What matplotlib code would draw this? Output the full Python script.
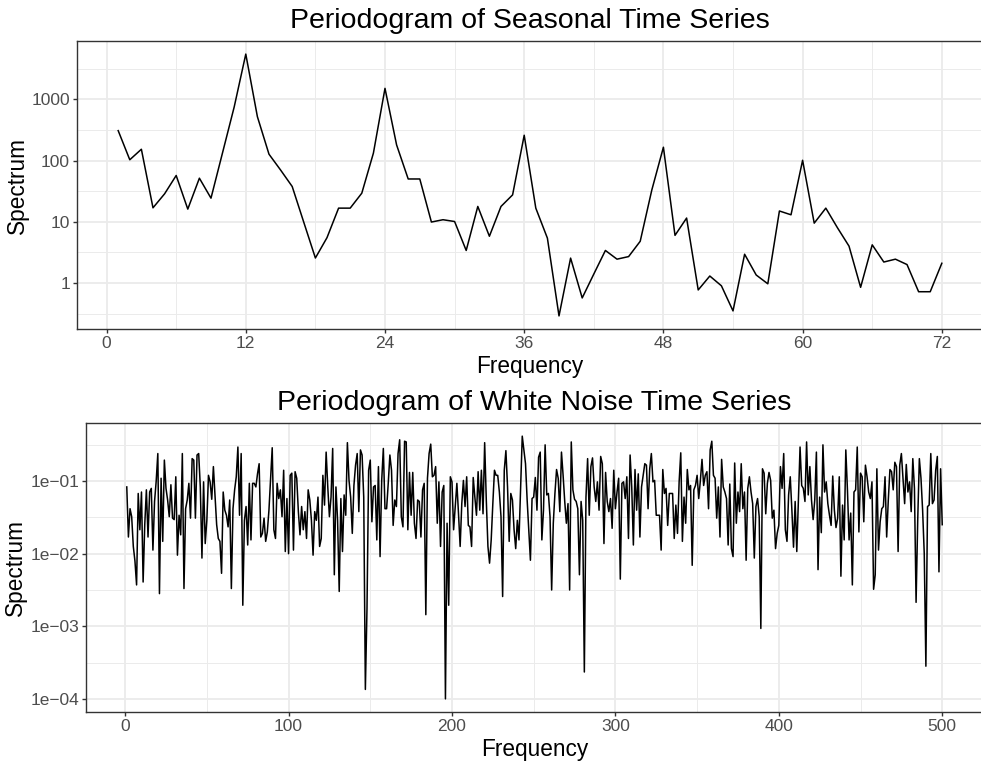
import numpy as np
import matplotlib
matplotlib.use("Agg")
import matplotlib.pyplot as plt
from matplotlib.ticker import FixedLocator, NullFormatter

plt.rcParams["font.family"] = ["Liberation Sans", "DejaVu Sans"]

# seasonal series: spectrum at frequencies 1..72
seasonal_freq = list(range(1, 73))
seasonal_spec = [308, 103, 153, 16.9, 28.6, 57, 16.1, 51.5, 24.3, 135, 750, 5480,
                 521, 127, 70, 37.7, 9.8, 2.56, 5.5, 16.7, 16.7, 29.3, 132, 1510,
                 180, 50, 50, 9.9, 10.8, 10.1, 3.4, 17.8, 5.8, 17.8, 27.5, 259,
                 16.7, 5.4, 0.29, 2.55, 0.57, 1.4, 3.4, 2.45, 2.7, 4.8, 33, 165,
                 6.0, 11.5, 0.77, 1.3, 0.9, 0.35, 2.95, 1.35, 0.97, 15, 13, 101,
                 9.5, 16.7, 8, 4, 0.85, 4.2, 2.2, 2.45, 2.0, 0.72, 0.72, 2.1]
seasonal_xticks = [0, 12, 24, 36, 48, 60, 72]
seasonal_yticks = [1, 10, 100, 1000]
seasonal_ylabels = ["1", "10", "100", "1000"]

# white noise series: log10 of spectrum at frequencies 1..500
noise_freq = list(range(1, 501))
noise_log10 = [
    -1.08, -1.77, -1.38, -1.49, -1.9, -2.1, -2.43, -1.17, -1.67, -1.15,
    -2.39, -1.6, -1.12, -1.77, -1.15, -1.1, -1.95, -1.28, -1.0, -0.62,
    -2.55, -0.96, -1.83, -0.71, -1.1, -1.26, -1.49, -1.05, -1.51, -1.53,
    -0.94, -2.02, -1.47, -1.74, -0.62, -2.48, -1.38, -1.26, -1.03, -1.51,
    -0.69, -0.71, -1.51, -0.64, -0.62, -1.08, -2.06, -1.01, -1.86, -1.54,
    -0.92, -1.01, -1.25, -0.8, -1.2, -1.6, -1.79, -1.83, -2.27, -1.15,
    -1.4, -1.47, -1.63, -1.26, -2.48, -1.38, -1.12, -0.94, -0.53, -1.47,
    -0.62, -2.71, -1.54, -1.35, -1.88, -1.03, -1.81, -1.03,
    # 79-161
    -1.03, -1.08, -0.9, -0.76, -1.77, -1.72, -1.51, -1.83, -1.7, -1.4,
    -0.96, -0.54, -1.67, -1.79, -1.03, -1.24, -1.12, -1.49, -0.85, -1.97,
    -1.24, -2.0, -0.92, -0.89, -1.95, -0.87, -0.96, -1.42, -1.74, -1.35,
    -1.67, -1.42, -1.79, -1.12, -1.26, -1.54, -2.02, -1.42, -1.54, -1.22,
    -1.9, -1.79, -0.92, -1.33, -0.6, -1.08, -1.49, -1.22, -0.55, -2.29,
    -1.08, -1.54, -2.52, -1.24, -1.97, -1.19, -1.47, -0.47, -0.99, -1.22,
    -1.72, -1.06, -0.78, -0.62, -1.42, -0.57, -0.64, -1.22, -3.87, -2.75,
    -0.85, -0.71, -1.56, -1.08, -1.06, -1.81, -0.8, -2.04, -0.99, -0.55,
    -1.38, -1.38, -1.03,
    # 162-244
    -0.64, -0.85, -1.61, -1.26, -1.35, -0.62, -0.43, -1.49, -1.63, -0.45,
    -0.46, -1.67, -0.88, -1.47, -0.88, -1.58, -1.79, -1.26, -1.28, -1.77,
    -1.12, -1.03, -2.84, -0.96, -0.62, -0.49, -0.94, -0.92, -0.8, -1.58,
    -1.01, -1.9, -1.15, -1.06, -4.0, -1.58, -2.71, -0.94, -1.01, -1.67,
    -1.35, -1.03, -1.45, -1.9, -1.31, -0.99, -1.35, -0.94, -1.61, -1.63,
    -1.9, -0.95, -1.22, -1.47, -0.87, -1.4, -0.85, -1.45, -0.47, -1.26,
    -1.9, -2.13, -1.81, -1.31, -0.85, -0.92, -0.92, -1.15, -1.49, -2.59,
    -0.85, -0.58, -1.08, -1.83, -1.17, -1.26, -1.67, -1.93, -1.54, -1.81,
    -1.08, -0.38, -0.57,
    # 245-326
    -0.76, -1.26, -1.67, -2.09, -1.24, -1.22, -0.95, -1.4, -0.67, -0.6,
    -1.81, -1.4, -0.5, -1.19, -1.17, -1.49, -2.5, -1.58, -1.17, -0.84,
    -0.96, -1.42, -0.6, -0.92, -1.28, -1.58, -1.31, -2.5, -0.46, -1.12,
    -1.25, -1.28, -1.38, -2.29, -1.28, -1.54, -3.63, -1.22, -0.69, -1.47,
    -0.8, -0.68, -1.08, -1.28, -1.01, -1.4, -0.66, -0.76, -1.86, -0.88,
    -1.28, -1.42, -1.24, -1.65, -0.85, -1.38, -1.15, -0.96, -2.35, -1.03,
    -1.01, -1.24, -0.94, -1.79, -0.64, -1.08, -1.88, -0.84, -1.4, -0.9,
    -1.77, -1.08, -0.92, -0.76, -0.78, -1.38, -0.83, -0.62, -1.01, -0.99,
    -1.47, -1.47,
    # 327-406
    -1.47, -1.95, -0.84, -1.17, -1.1, -1.61, -1.17, -1.17, -1.17, -1.79,
    -1.33, -1.72, -1.01, -0.61, -1.83, -1.22, -1.58, -0.84, -1.12, -1.06,
    -2.16, -1.12, -1.06, -0.92, -1.24, -0.99, -0.7, -1.06, -0.92, -0.87,
    -1.38, -0.57, -0.45, -0.92, -0.96, -1.51, -1.08, -1.77, -0.7, -1.08,
    -1.15, -1.24, -1.88, -1.04, -1.93, -2.04, -0.75, -1.58, -1.15, -1.42,
    -0.76, -1.38, -1.15, -2.09, -1.1, -0.94, -1.15, -1.31, -2.06, -1.35,
    -1.24, -1.49, -3.03, -0.83, -0.89, -1.45, -1.03, -0.88, -0.99, -1.51,
    -1.4, -1.93, -1.72, -1.61, -0.8, -1.1, -0.62, -1.67, -1.83, -1.19,
    # 407-500
    -0.94, -1.4, -1.91, -1.28, -1.97, -1.24, -0.53, -1.06, -1.1, -1.28,
    -0.46, -1.19, -0.8, -1.26, -1.53, -1.26, -0.6, -2.22, -1.22, -1.71,
    -0.5, -1.15, -1.01, -1.31, -1.47, -1.61, -0.93, -1.4, -1.64, -1.51,
    -0.94, -2.31, -1.33, -1.81, -0.57, -1.12, -1.81, -1.44, -2.43, -1.15,
    -1.12, -0.53, -1.7, -0.89, -0.94, -1.56, -0.78, -0.94, -1.15, -1.24,
    -1.01, -2.49, -2.29, -0.83, -1.95, -1.56, -1.38, -1.35, -0.94, -1.77,
    -1.26, -0.84, -0.87, -1.12, -0.74, -0.8, -1.97, -0.78, -0.62, -0.96,
    -1.31, -0.77, -1.15, -1.01, -1.42, -0.69, -1.1, -2.67, -1.54, -0.69,
    -0.96, -1.4, -2.0, -3.55, -1.35, -1.33, -0.62, -1.31, -1.26, -0.85,
    -0.66, -2.25, -0.83, -1.6,
]
noise_spec = np.power(10.0, noise_log10)
noise_xticks = [0, 100, 200, 300, 400, 500]
noise_yticks = [1e-4, 1e-3, 1e-2, 1e-1]
noise_ylabels = ["1e\u221204", "1e\u221203", "1e\u221202", "1e\u221201"]

W, H = 981, 761
fig = plt.figure(figsize=(W / 100, H / 100), dpi=100)
R = 983  # panel runs just past the right edge of the picture


def pad_lin(v, f=0.05):
    lo, hi = min(v), max(v)
    d = (hi - lo) * f
    return lo - d, hi + d


def pad_log(v, f=0.05):
    lo, hi = np.log10(min(v)), np.log10(max(v))
    d = (hi - lo) * f
    return 10 ** (lo - d), 10 ** (hi + d)


def style(ax, xmajor, xminor, ymajor, yminor, ylabels):
    ax.set_facecolor("white")
    ax.set_yscale("log")
    ax.xaxis.set_major_locator(FixedLocator(xmajor))
    ax.xaxis.set_minor_locator(FixedLocator(xminor))
    ax.yaxis.set_major_locator(FixedLocator(ymajor))
    ax.yaxis.set_minor_locator(FixedLocator(yminor))
    ax.yaxis.set_minor_formatter(NullFormatter())
    ax.set_yticklabels(ylabels)
    ax.grid(True, which="major", color="#EBEBEB", lw=1.3)
    ax.grid(True, which="minor", color="#EBEBEB", lw=0.7)
    ax.set_axisbelow(True)
    for s in ax.spines.values():
        s.set_color("#333333")
        s.set_linewidth(1.0)
    ax.tick_params(which="major", length=3, width=1.0, color="#333333",
                   labelcolor="#4D4D4D", labelsize=12.5, pad=2)
    ax.tick_params(which="minor", length=0)


# top panel
ax1 = fig.add_axes([77 / W, 1 - 329 / H, (R - 77) / W, (329 - 41) / H])
ax1.plot(seasonal_freq, seasonal_spec, color="black", lw=1.1)
style(ax1, seasonal_xticks, [6, 18, 30, 42, 54, 66],
      seasonal_yticks, [10 ** -0.5, 10 ** 0.5, 10 ** 1.5, 10 ** 2.5, 10 ** 3.5],
      seasonal_ylabels)
ax1.set_xlim(pad_lin(seasonal_freq))
ax1.set_ylim(pad_log(seasonal_spec))
ax1.set_title("Periodogram of Seasonal Time Series", fontsize=20.5, pad=9)
ax1.set_xlabel("Frequency", fontsize=16.3, labelpad=3)
ax1.set_ylabel("Spectrum", fontsize=16.3, labelpad=2)

# bottom panel
ax2 = fig.add_axes([86 / W, 1 - 712 / H, (R - 86) / W, (712 - 423) / H])
ax2.plot(noise_freq, noise_spec, color="black", lw=1.1)
style(ax2, noise_xticks, [50, 150, 250, 350, 450],
      noise_yticks, [10 ** -3.5, 10 ** -2.5, 10 ** -1.5, 10 ** -0.5],
      noise_ylabels)
ax2.set_xlim(pad_lin(noise_freq))
ax2.set_ylim(pad_log(noise_spec))
ax2.set_title("Periodogram of White Noise Time Series", fontsize=20.5, pad=9)
ax2.set_xlabel("Frequency", fontsize=16.3, labelpad=3)
ax2.set_ylabel("Spectrum", fontsize=16.3, labelpad=2)

fig.savefig("out.png", dpi=100)
